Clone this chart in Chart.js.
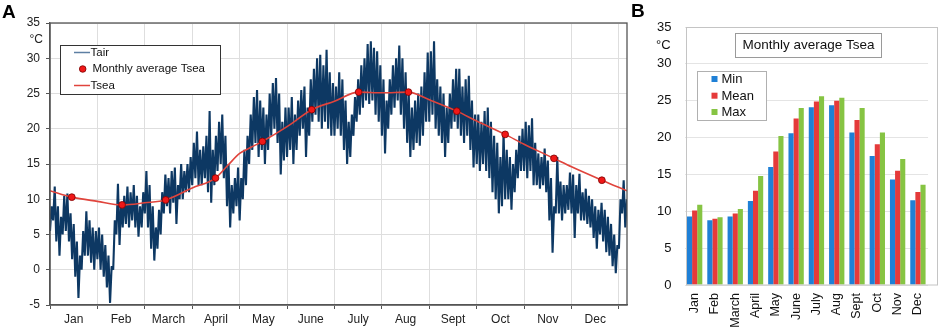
<!DOCTYPE html>
<html><head><meta charset="utf-8">
<script src="https://cdn.jsdelivr.net/npm/chart.js@4.4.1/dist/chart.umd.min.js"></script>
<style>
html,body{margin:0;padding:0;background:#fff;}
#wrap{position:relative;width:941px;height:330px;background:#fff;overflow:hidden;}
canvas{position:absolute;top:0;}
.lbl{position:absolute;font-family:"Liberation Sans",Arial,sans-serif;font-weight:bold;font-size:19px;line-height:19px;color:#000;}
</style></head>
<body>
<div id="wrap">
<canvas id="ca" width="632" height="330" style="left:0"></canvas>
<canvas id="cb" width="311" height="330" style="left:630px"></canvas>
<div class="lbl" style="left:2px;top:2px">A</div>
<div class="lbl" style="left:631px;top:1px">B</div>
</div>
<script>
const FONT = '"Liberation Sans", Arial, sans-serif';
const months = ['Jan','Feb','March','April','May','June','July','Aug','Sept','Oct','Nov','Dec'];

const SAMPLES_PER_MONTH = 15;
const tairLow = [
  5.5, 7, 4, 2, 5, 5.5, 4, 1.5, -1, -4, 0, 2, 2, 1, 0,
  1.5, 0, -1, -2.5, -4.7, 0, 5, 3.5, 6, 6.5, 6, 7, 6, 4.7, 6,
  8, 6, 3, 1.3, 3, 5, 8, 9, 8, 9.5, 6.5, 10, 10, 11, 11,
  12, 13, 12, 12, 13, 11, 9.5, 12, 14, 15, 13, 9, 6, 8, 9,
  7, 10, 12, 15, 17, 18, 16, 17, 15, 17, 19, 20, 18, 13.5, 15.5,
  16, 17, 15, 17, 19, 20, 16, 19, 21, 22, 21, 20, 21, 20, 19,
  19, 20, 19, 17, 15, 16, 19, 21, 22, 23, 24, 23.5, 24, 22, 21,
  19, 16.5, 20, 22, 23, 24, 22, 20, 18, 16, 17, 18, 17.6, 19, 21,
  21, 22, 20, 19, 18, 16, 18, 20, 21, 20, 19, 18, 19, 17, 14.5,
  15, 14, 15, 14, 13, 11, 10, 8, 9, 10, 10, 8.5, 11, 13, 14,
  14, 13, 14, 12, 12, 11.5, 12, 11, 7, 2.4, 8, 8, 7, 8, 8.5,
  8, 4.5, 8, 7, 7, 6.5, 6, 4.5, 3, 5, 4, 2.5, 2, 0.5, -0.5,
  3, 8, 6
];
const tairHigh = [
  9, 11.8, 9, 7.5, 10.5, 10.8, 8, 6.5, 4, 2, 5.5, 8.3, 7, 6, 5.5,
  6, 5, 3.5, 2, 0.5, 7, 12.2, 9.5, 10.5, 11.8, 11, 12, 10.5, 9, 11,
  14, 12, 9, 6, 8.5, 11, 13.5, 13, 14, 14.5, 12, 15, 14, 15, 16,
  18, 19.6, 17, 17.5, 19, 22.5, 17, 19, 21, 22, 19, 15, 12, 13, 14.5,
  13, 17, 19, 22, 24.5, 25.5, 24, 23, 22, 25, 26.5, 27.2, 25, 21, 23,
  23, 24.5, 22, 24, 25.5, 26, 23, 27, 28.5, 30, 30.5, 29, 31.2, 28, 26.5,
  26, 28, 27, 24, 21, 22, 24.5, 27, 29, 30, 32, 32.4, 31.5, 31, 29,
  27, 24, 27, 29, 30, 31.8, 30, 28, 25, 23, 24, 25, 26, 28, 30.8,
  31, 32.4, 27, 26, 25, 23, 25, 27, 28.5, 28.5, 26, 27, 27.5, 24, 22,
  22, 21, 22.5, 23, 21, 19, 18, 16, 19.5, 17, 16, 15, 17, 19, 20,
  21, 20.5, 21.5, 18, 16.5, 16, 17.2, 15.5, 13, 9, 16, 12.5, 12, 12, 13.8,
  13.5, 12, 13.6, 11, 11.5, 10.5, 10, 9, 8.5, 9.5, 8.5, 7.5, 6.5, 5, 3.5,
  10, 12.7, 10
];
// Tsea smooth curve (x in months from 1 Jan)
const tseaLineX = [0, 0.46, 1.0, 1.52, 2.0, 2.44, 3.0, 3.49, 3.75, 4.0, 4.25, 4.48, 5.0, 5.52, 6.0, 6.51, 7.0, 7.56, 8.0, 8.58, 9.0, 9.6, 10.0, 10.63, 11.0, 11.64, 12.17];
const tseaLineY = [11.2, 10.3, 9.7, 9.2, 9.5, 9.9, 11.6, 13.0, 14.8, 16.5, 17.4, 18.2, 20.3, 22.7, 23.9, 25.2, 25.1, 25.2, 24.1, 22.5, 21.1, 19.2, 17.8, 15.8, 14.6, 12.7, 11.2];
// Monthly average Tsea points
const monthlyX = [0.46, 1.52, 2.44, 3.49, 4.48, 5.52, 6.51, 7.56, 8.58, 9.6, 10.63, 11.64];
const monthlyY = [10.3, 9.2, 9.9, 13.0, 18.2, 22.7, 25.2, 25.2, 22.5, 19.2, 15.8, 12.7];
const yTicksA = [-5, 0, 5, 10, 15, 20, 25, 30, 35];

// Panel B
const minT  = [9.3, 8.8, 9.3, 11.4, 16.0, 20.6, 24.1, 24.4, 20.7, 17.5, 14.3, 11.5];
const meanT = [10.1, 9.0, 9.7, 12.8, 18.1, 22.6, 24.9, 25.0, 22.4, 19.1, 15.5, 12.6];
const maxT  = [10.9, 9.2, 10.3, 14.8, 20.2, 24.0, 25.6, 25.4, 24.0, 20.7, 17.1, 13.6];

// ---- Build panel A data
const tairData = [];
for (let i = 0; i < tairLow.length; i++) {
  tairData.push({x: i / SAMPLES_PER_MONTH, y: tairLow[i]});
  tairData.push({x: (i + 0.5) / SAMPLES_PER_MONTH, y: tairHigh[i]});
}
const tseaData = tseaLineX.map((x, i) => ({x, y: tseaLineY[i]}));
const monthlyData = monthlyX.map((x, i) => ({x, y: monthlyY[i]}));

const frameA = {
  id: 'frameA',
  afterDraw(chart) {
    const c = chart.ctx, a = chart.chartArea;
    c.save();
    c.strokeStyle = '#555'; c.lineWidth = 1.3;
    c.strokeRect(a.left, a.top, a.right - a.left, a.bottom - a.top);
    c.fillStyle = '#222'; c.font = '12px ' + FONT;
    c.textAlign = 'right'; c.textBaseline = 'middle';
    c.fillText('°C', 43, 40);
    // legend
    c.fillStyle = '#fff'; c.fillRect(60.5, 45.5, 160, 49);
    c.strokeStyle = '#333'; c.lineWidth = 1; c.strokeRect(60.5, 45.5, 160, 49);
    c.lineWidth = 1.5;
    c.strokeStyle = '#5d7fa3';
    c.beginPath(); c.moveTo(74, 52.5); c.lineTo(90, 52.5); c.stroke();
    c.strokeStyle = '#e0443c';
    c.beginPath(); c.moveTo(74, 85.5); c.lineTo(90, 85.5); c.stroke();
    c.fillStyle = '#f01818'; c.strokeStyle = '#7a0000'; c.lineWidth = 0.8;
    c.beginPath(); c.arc(82.7, 69, 3.3, 0, Math.PI * 2); c.fill(); c.stroke();
    c.fillStyle = '#111'; c.font = '11.5px ' + FONT; c.textAlign = 'left';
    c.fillText('Tair', 90.5, 52.5);
    c.fillText('Monthly average Tsea', 92.5, 69);
    c.fillText('Tsea', 90.5, 85.5);
    c.restore();
  }
};

new Chart(document.getElementById('ca'), {
  type: 'line',
  data: {
    datasets: [
      {label: 'Monthly average Tsea', data: monthlyData, showLine: false, pointRadius: 3.4,
       pointBackgroundColor: '#f01818', pointBorderColor: '#7a0000', pointBorderWidth: 0.8, order: 1},
      {label: 'Tsea', data: tseaData, borderColor: '#e0443c', borderWidth: 1.6, pointRadius: 0,
       cubicInterpolationMode: 'monotone', order: 2},
      {label: 'Tair', data: tairData, borderColor: '#0d3863', borderWidth: 2.1, pointRadius: 0,
       borderJoinStyle: 'bevel', tension: 0, order: 3}
    ]
  },
  options: {
    responsive: false, animation: false, devicePixelRatio: 1,
    layout: {padding: {top: 23, right: 5, left: 0, bottom: 0}},
    plugins: {legend: {display: false}, tooltip: {enabled: false}},
    scales: {
      x: {
        type: 'linear', min: 0, max: 12.17,
        afterBuildTicks(s) { const t = []; for (let v = 0; v <= 24; v++) t.push({value: v / 2}); s.ticks = t; },
        afterFit(s) { s.height = 25; },
        ticks: {autoSkip: false, maxRotation: 0, padding: 3, color: '#222', font: {size: 12, family: FONT},
          callback: (v) => (Math.abs(v % 1 - 0.5) < 1e-6 ? months[Math.floor(v)] : '')},
        grid: {
          color: (ctx) => (ctx.tick && Number.isInteger(ctx.tick.value) ? '#dedede' : 'rgba(0,0,0,0)'),
          tickColor: (ctx) => (ctx.tick && Number.isInteger(ctx.tick.value) ? '#555' : 'rgba(0,0,0,0)'),
          tickLength: 4, lineWidth: 1
        },
        border: {color: '#555', width: 1.3}
      },
      y: {
        min: -5, max: 35,
        afterBuildTicks(s) { s.ticks = yTicksA.map(v => ({value: v})); },
        afterFit(s) { s.width = 50; },
        ticks: {padding: 6, color: '#222', font: {size: 12, family: FONT}},
        grid: {color: '#dedede', tickColor: '#555', tickLength: 4},
        border: {color: '#555', width: 1.3}
      }
    }
  },
  plugins: [frameA]
});

// ---- Panel B
const frameB = {
  id: 'frameB',
  afterDraw(chart) {
    const c = chart.ctx;
    c.save();
    c.strokeStyle = '#c4c4c4'; c.lineWidth = 1;
    c.strokeRect(56.5, 27.5, 251, 257.5);
    c.fillStyle = '#111'; c.font = '13px ' + FONT; c.textAlign = 'left'; c.textBaseline = 'middle';
    c.fillText('°C', 26, 45);
    // title box
    c.fillStyle = '#fff'; c.fillRect(105.5, 33.5, 146, 24);
    c.strokeStyle = '#9a9a9a'; c.strokeRect(105.5, 33.5, 146, 24);
    c.fillStyle = '#111'; c.font = '13.5px ' + FONT; c.textAlign = 'center';
    c.fillText('Monthly average Tsea', 178.5, 45.5);
    // legend box
    c.fillStyle = '#fff'; c.fillRect(67.5, 71.5, 69, 49);
    c.strokeStyle = '#b0b0b0'; c.strokeRect(67.5, 71.5, 69, 49);
    const items = [['Min', '#1f80d6', 79], ['Mean', '#e53a3a', 95.7], ['Max', '#86c443', 112]];
    c.font = '13px ' + FONT; c.textAlign = 'left';
    items.forEach(([t, col, y]) => {
      c.fillStyle = col; c.fillRect(81.5, y - 3, 6, 6);
      c.fillStyle = '#111'; c.fillText(t, 91.5, y + 0.5);
    });
    c.restore();
  }
};

new Chart(document.getElementById('cb'), {
  type: 'bar',
  data: {
    labels: months,
    datasets: [
      {label: 'Min', data: minT, backgroundColor: '#1f80d6'},
      {label: 'Mean', data: meanT, backgroundColor: '#e53a3a'},
      {label: 'Max', data: maxT, backgroundColor: '#86c443'}
    ]
  },
  options: {
    responsive: false, animation: false, devicePixelRatio: 1,
    layout: {padding: {top: 27, right: 2, left: 0, bottom: 0}},
    plugins: {legend: {display: false}, tooltip: {enabled: false}},
    datasets: {bar: {categoryPercentage: 0.755, barPercentage: 1.0}},
    scales: {
      x: {
        afterFit(s) { s.height = 45; },
        ticks: {minRotation: 90, maxRotation: 90, autoSkip: false, padding: 8, color: '#111', font: {size: 12.5, family: FONT}},
        grid: {display: false, drawTicks: false},
        border: {display: false}
      },
      y: {
        min: 0, max: 35,
        ticks: {stepSize: 5, padding: 13, color: '#111', font: {size: 13, family: FONT}},
        afterFit(s) { s.width = 54.5; },
        grid: {color: '#e4e4e4', drawTicks: false},
        border: {display: false}
      }
    }
  },
  plugins: [frameB]
});
</script>
</body></html>
